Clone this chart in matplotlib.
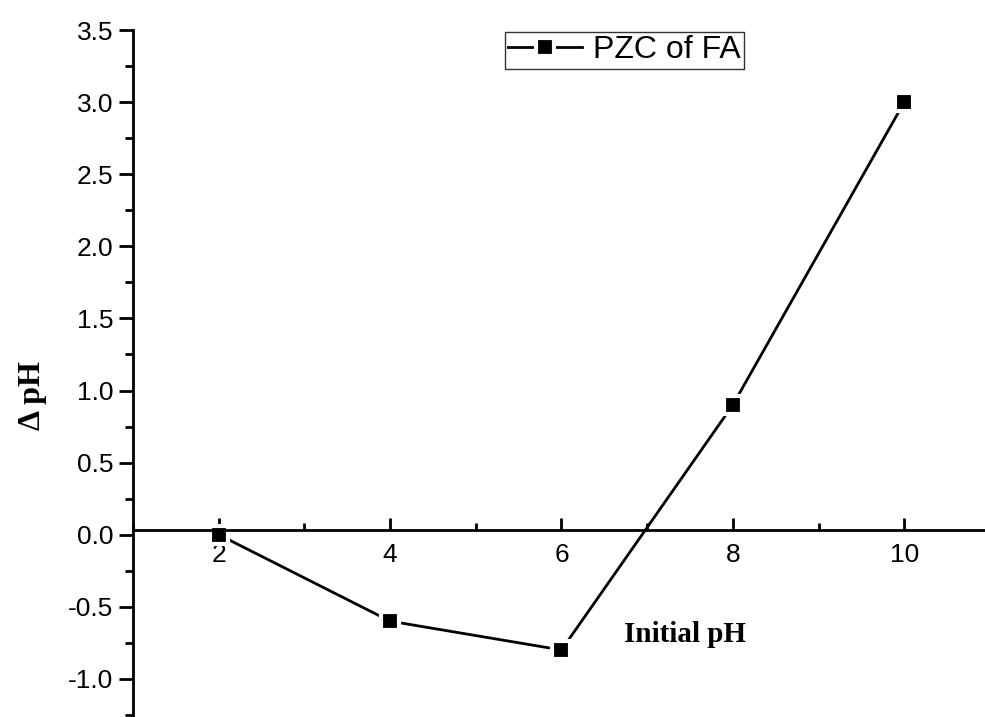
import matplotlib
matplotlib.use("Agg")
import matplotlib.pyplot as plt
from matplotlib.ticker import MultipleLocator, FormatStrFormatter

# --- datos ---
initial_ph = [2, 4, 6, 8, 10]
delta_ph = [0.0, -0.6, -0.8, 0.9, 3.0]
serie_label = "PZC of FA"

plt.rcParams['font.family'] = ['Liberation Sans', 'DejaVu Sans']
serif = ['Liberation Serif', 'DejaVu Serif']

fig = plt.figure(figsize=(9.85, 7.17), dpi=100)
ax = fig.add_axes([0.135, 0.003, 0.87, 0.955])

# marcador con borde blanco para dejar hueco entre linea y cuadrado (estilo Origin)
ax.plot(initial_ph, delta_ph, color='black', lw=2, marker='s',
        markersize=13, markerfacecolor='black', markeredgecolor='white',
        markeredgewidth=3, label=serie_label, clip_on=False, zorder=2)

ax.set_xlim(1, 11)
ax.set_ylim(-1.25, 3.5)

ax.spines['top'].set_visible(False)
ax.spines['right'].set_visible(False)
ax.spines['bottom'].set_position(('data', 0.035))
ax.spines['left'].set_linewidth(2)
ax.spines['bottom'].set_linewidth(2)
ax.spines['bottom'].set_zorder(3)

ax.xaxis.set_major_locator(MultipleLocator(2))
ax.xaxis.set_minor_locator(MultipleLocator(1))
ax.yaxis.set_major_locator(MultipleLocator(0.5))
ax.yaxis.set_minor_locator(MultipleLocator(0.25))
ax.yaxis.set_major_formatter(FormatStrFormatter('%.1f'))

ax.tick_params(axis='x', which='major', direction='in', length=9, width=2,
               labelsize=19, pad=10)
ax.tick_params(axis='x', which='minor', direction='in', length=5, width=2)
ax.tick_params(axis='y', which='major', direction='out', length=10, width=2,
               labelsize=19, pad=4)
ax.tick_params(axis='y', which='minor', direction='out', length=6, width=2)

ax.set_ylabel('Δ pH', fontsize=23, fontweight='bold', family=serif)
ax.yaxis.set_label_coords(-0.10, 0.466)
ax.text(7.44, -0.69, 'Initial pH', fontsize=21, fontweight='bold',
        family=serif, ha='center', va='center')

leg = ax.legend(loc='upper left', bbox_to_anchor=(0.434, 0.997), fontsize=23,
                frameon=True, fancybox=False, edgecolor='black',
                handlelength=2.3, handletextpad=0.35, borderpad=0.1,
                borderaxespad=0)
leg.get_frame().set_linewidth(1)

fig.savefig('out.png', dpi=100)
